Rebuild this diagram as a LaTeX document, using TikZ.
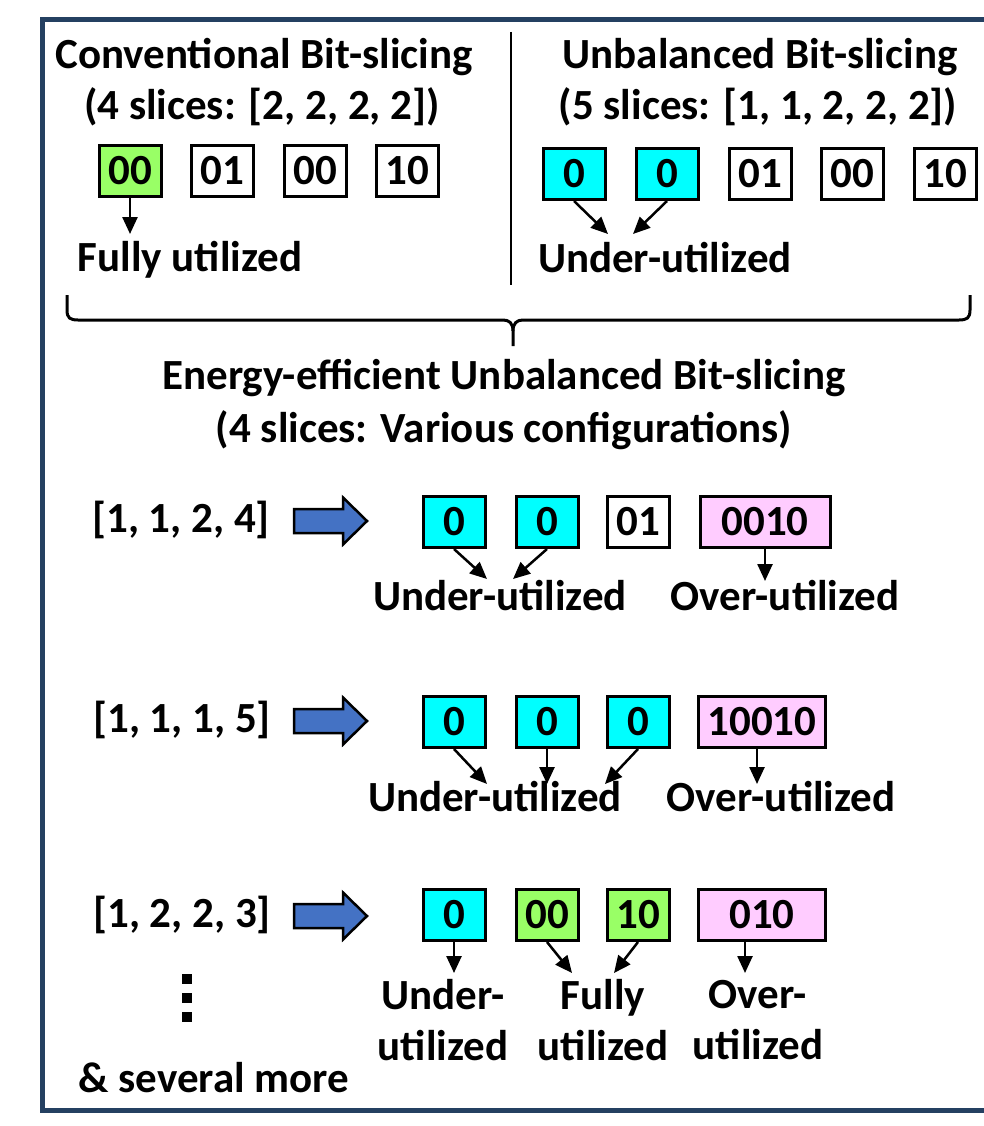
\documentclass[tikz,border=0pt]{standalone}
\usepackage{fontspec}
\setmainfont{Carlito}
\usetikzlibrary{arrows.meta}
\definecolor{framecol}{RGB}{36,64,97}
\definecolor{cyanbox}{RGB}{0,255,255}
\definecolor{greenbox}{RGB}{153,255,102}
\definecolor{pinkbox}{RGB}{255,204,255}
\definecolor{arrowblue}{RGB}{68,114,196}
\begin{document}
\begin{tikzpicture}[x=1pt,y=-1pt,
  txt/.style={inner sep=0pt,font=\fontsize{43}{51}\selectfont\bfseries,align=center},
  slicebox/.style={draw,line width=3pt,minimum width=62pt,minimum height=51pt,inner sep=0pt,font=\fontsize{43}{51}\selectfont\bfseries},
  widebox/.style={slicebox,minimum width=127pt},
  ptr/.style={line width=2.5pt,-{Triangle[length=17pt,width=15pt]}},
  fatarrow/.style={draw=black,line width=2.5pt,fill=arrowblue,line join=miter}
]
\useasboundingbox (0,0) rectangle (984,1126);
% frame
\draw[framecol,line width=5pt] (990,20) -- (42,20) -- (42,1110) -- (990,1110);
% divider
\draw[line width=2.5pt] (511,32) -- (511,285);

% top-left
\node[txt] (t1) at (264,57) {Conventional Bit-slicing};
\node[txt] (t1b) at (262,107) {(4 slices: [2, 2, 2, 2])};
\node[slicebox,fill=greenbox] (a1) at (130,171) {00};
\node[slicebox] (a2) at (222,171) {01};
\node[slicebox] (a3) at (315,171) {00};
\node[slicebox] (a4) at (407,171) {10};
\node[txt] (fu) at (190,260) {Fully utilized};
\coordinate (fuT) at (130,234);
\draw[ptr] (a1.south) -- (fuT);

% top-right
\node[txt] (t2) at (760,57) {Unbalanced Bit-slicing};
\node[txt] (t2b) at (758,107) {(5 slices: [1, 1, 2, 2, 2])};
\node[slicebox,fill=cyanbox] (b1) at (574,174) {0};
\node[slicebox,fill=cyanbox] (b2) at (667,174) {0};
\node[slicebox] (b3) at (760,174) {01};
\node[slicebox] (b4) at (852,174) {00};
\node[slicebox] (b5) at (945,174) {10};
\node[txt] (uu) at (665,258) {Under-utilized};
\coordinate (uuA) at (608,234);
\coordinate (uuB) at (633,234);
\draw[ptr] (b1.south) -- (uuA);
\draw[ptr] (b2.south) -- (uuB);

% brace
\coordinate (brL) at (67,295);
\coordinate (brR) at (970,295);
\coordinate (brT) at (513,346);
\draw[line width=3pt,line join=round]
  (brL) -- (67,310) .. controls (67,318) and (70,320) .. (78,320)
  -- (503,320) .. controls (509,320) and (513,323) .. (513,331) -- (brT);
\draw[line width=3pt,line join=round]
  (brR) -- (970,310) .. controls (970,318) and (967,320) .. (959,320)
  -- (523,320) .. controls (517,320) and (513,323) .. (513,331);

\node[txt] (t3) at (504,378) {Energy-efficient Unbalanced Bit-slicing};
\node[txt] (t3b) at (504,430) {(4 slices: Various configurations)};

% row 1
\node[txt] (r1) at (181,520) {[1, 1, 2, 4]};
\coordinate (r1a) at (294,521);
\draw[fatarrow] (r1a) ++(0,-12) -- ++(49,0) -- ++(0,-11.5) -- ++(24,23.5) -- ++(-24,23.5) -- ++(0,-11.5) -- ++(-49,0) -- cycle;
\node[slicebox,fill=cyanbox] (c1) at (454,522) {0};
\node[slicebox,fill=cyanbox] (c2) at (547,522) {0};
\node[slicebox] (c3) at (638,522) {01};
\node[widebox,minimum width=130pt,fill=pinkbox] (c4) at (765,522) {0010};
\node[txt] (c5) at (500,596) {Under-utilized};
\node[txt] (c6) at (785,596) {Over-utilized};
\coordinate (c1t) at (487,579);
\coordinate (c2t) at (513,579);
\coordinate (c4t) at (765,581);
\draw[ptr] (c1.south) -- (c1t);
\draw[ptr] (c2.south) -- (c2t);
\draw[ptr] (c4.south) -- (c4t);

% row 2
\node[txt] (r2) at (182,720) {[1, 1, 1, 5]};
\coordinate (r2a) at (294,721);
\draw[fatarrow] (r2a) ++(0,-12) -- ++(49,0) -- ++(0,-11.5) -- ++(24,23.5) -- ++(-24,23.5) -- ++(0,-11.5) -- ++(-49,0) -- cycle;
\node[slicebox,fill=cyanbox] (d1) at (454,722) {0};
\node[slicebox,fill=cyanbox] (d2) at (547,722) {0};
\node[slicebox,fill=cyanbox] (d3) at (638,722) {0};
\node[widebox,fill=pinkbox] (d4) at (762,722) {10010};
\node[txt] (d5) at (495,797) {Under-utilized};
\node[txt] (d6) at (781,797) {Over-utilized};
\coordinate (d1t) at (487,784);
\coordinate (d2t) at (547,784);
\coordinate (d3t) at (605,784);
\coordinate (d4t) at (757,784);
\draw[ptr] (d1.south) -- (d1t);
\draw[ptr] (d2.south) -- (d2t);
\draw[ptr] (d3.south) -- (d3t);
\draw[ptr] (d4.south -| d4t) -- (d4t);

% row 3
\node[txt] (r3) at (182,915) {[1, 2, 2, 3]};
\coordinate (r3a) at (294,916);
\draw[fatarrow] (r3a) ++(0,-12) -- ++(49,0) -- ++(0,-11.5) -- ++(24,23.5) -- ++(-24,23.5) -- ++(0,-11.5) -- ++(-49,0) -- cycle;
\node[slicebox,fill=cyanbox] (e1) at (454,915) {0};
\node[slicebox,fill=greenbox] (e2) at (547,915) {00};
\node[slicebox,fill=greenbox] (e3) at (638,915) {10};
\node[widebox,fill=pinkbox] (e4) at (762,915) {010};
\node[txt] (e5) at (443,1020) {Under-\\utilized};
\node[txt] (e6) at (603,1020) {Fully\\utilized};
\node[txt] (e7) at (758,1020) {Over-\\utilized};
\coordinate (e1t) at (454,973);
\coordinate (e2t) at (572,973);
\coordinate (e3t) at (614,973);
\coordinate (e4t) at (745,973);
\draw[ptr] (e1.south) -- (e1t);
\draw[ptr] (e2.south) -- (e2t);
\draw[ptr] (e3.south) -- (e3t);
\draw[ptr] (e4.south -| e4t) -- (e4t);

% dots
\fill (182,974) rectangle (192,984);
\fill (182,993) rectangle (192,1003);
\fill (182,1012) rectangle (192,1022);
\node[txt] (more) at (214,1078) {\& several more};
\end{tikzpicture}
\end{document}
